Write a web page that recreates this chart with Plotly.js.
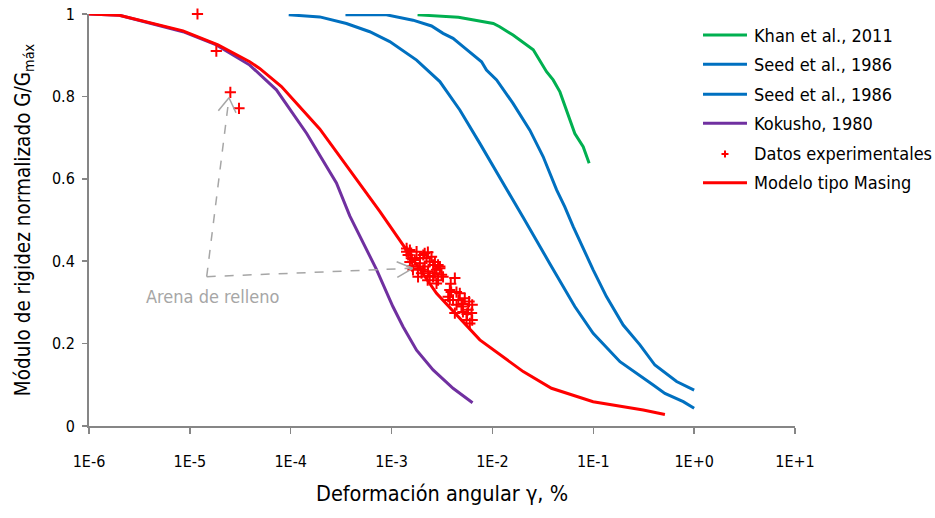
<!DOCTYPE html>
<html>
<head>
<meta charset="utf-8">
<script src="https://cdn.plot.ly/plotly-3.0.1.min.js"></script>
<style>html,body{margin:0;padding:0;background:#fff;}#chart{width:935px;height:518px;}</style>
</head>
<body>
<div id="chart"></div>
<script>
// ---- Data ----
const khanX = [1.81e-3, 4.6e-3, 1.02e-2, 1.18e-2, 1.60e-2, 2.54e-2, 3.44e-2, 4.0e-2, 4.67e-2, 5.43e-2, 6.56e-2, 7.94e-2, 9.1e-2];
const khanY = [0.998, 0.992, 0.977, 0.969, 0.949, 0.913, 0.860, 0.840, 0.811, 0.767, 0.710, 0.678, 0.638];

const seedAX = [9.55e-5, 1.94e-4, 3.57e-4, 6.08e-4, 9.59e-4, 1.77e-3, 3.01e-3, 4.75e-3, 7.50e-3, 1.23e-2, 2.02e-2, 3.71e-2, 6.56e-2, 9.97e-2, 0.184, 0.393, 0.513, 0.78, 1.0];
const seedAY = [0.998, 0.993, 0.977, 0.957, 0.933, 0.888, 0.836, 0.767, 0.686, 0.597, 0.506, 0.394, 0.290, 0.225, 0.156, 0.0995, 0.079, 0.059, 0.043];

const seedBX = [3.49e-4, 8.89e-4, 1.63e-3, 2.49e-3, 3.24e-3, 4.07e-3, 5.12e-3, 7.80e-3, 8.73e-3, 1.10e-2, 1.60e-2, 2.35e-2, 3.18e-2, 4.33e-2, 5.22e-2, 6.32e-2, 9.97e-2, 0.135, 0.198, 0.290, 0.408, 0.670, 1.0];
const seedBY = [0.998, 0.998, 0.985, 0.971, 0.953, 0.941, 0.921, 0.884, 0.864, 0.840, 0.783, 0.718, 0.654, 0.573, 0.532, 0.484, 0.379, 0.314, 0.245, 0.197, 0.148, 0.108, 0.087];

const kokushoX = [1e-6, 2e-6, 8.55e-6, 1.83e-5, 3.92e-5, 7.21e-5, 1.44e-4, 2.84e-4, 3.85e-4, 5.21e-4, 7.08e-4, 1.03e-3, 1.30e-3, 1.77e-3, 2.58e-3, 4.07e-3, 6.35e-3];
const kokushoY = [1.0, 0.997, 0.957, 0.925, 0.876, 0.816, 0.710, 0.590, 0.510, 0.447, 0.380, 0.290, 0.241, 0.184, 0.136, 0.0915, 0.0566];

const masingX = [1e-6, 2.0e-6, 8.55e-6, 1.90e-5, 3.92e-5, 4.92e-5, 8.09e-5, 1.94e-4, 3.85e-4, 7.64e-4, 1.41e-3, 2.79e-3, 7.50e-3, 2.02e-2, 3.85e-2, 9.97e-2, 0.313, 0.513];
const masingY = [1.0, 0.997, 0.959, 0.925, 0.884, 0.868, 0.824, 0.721, 0.621, 0.521, 0.427, 0.322, 0.209, 0.132, 0.0915, 0.059, 0.039, 0.028];

const expX = [1.19e-5, 1.83e-5, 2.52e-5, 3.07e-5,
  1.41e-3, 1.41e-3, 1.46e-3, 1.57e-3, 1.63e-3, 1.77e-3, 1.70e-3, 1.83e-3, 1.91e-3, 2.06e-3,
  2.13e-3, 2.22e-3, 1.98e-3, 2.30e-3, 2.39e-3, 2.49e-3, 2.58e-3, 2.69e-3, 2.58e-3, 2.79e-3,
  2.89e-3, 2.89e-3, 3.01e-3, 3.13e-3, 3.24e-3, 2.13e-3, 3.01e-3, 1.52e-3, 2.28e-3, 1.82e-3,
  1.52e-3, 1.91e-3, 2.29e-3, 2.69e-3, 2.06e-3, 2.39e-3, 1.60e-3, 2.79e-3,
  3.64e-3, 3.78e-3, 4.07e-3, 4.24e-3, 4.41e-3, 4.75e-3, 4.93e-3, 5.32e-3, 5.53e-3, 5.74e-3,
  5.87e-3, 5.97e-3, 6.21e-3, 3.9e-3, 4.6e-3, 5.1e-3, 6.3e-3, 4.24e-3,
  3.86e-3, 4.4e-3, 5.1e-3, 5.6e-3, 3.78e-3, 6.3e-3];
const expY = [1.0, 0.910, 0.810, 0.771,
  0.431, 0.423, 0.415, 0.407, 0.379, 0.423, 0.403, 0.362, 0.395, 0.415,
  0.387, 0.407, 0.371, 0.375, 0.399, 0.411, 0.391, 0.371, 0.362, 0.346,
  0.391, 0.354, 0.383, 0.367, 0.362, 0.419, 0.387, 0.398, 0.354, 0.383,
  0.427, 0.408, 0.422, 0.398, 0.379, 0.364, 0.388, 0.379,
  0.314, 0.330, 0.306, 0.359, 0.294, 0.322, 0.290, 0.310, 0.257, 0.282,
  0.302, 0.249, 0.274, 0.325, 0.306, 0.277, 0.294, 0.274,
  0.345, 0.325, 0.296, 0.272, 0.306, 0.257];

const xTickVals = [1e-6, 1e-5, 1e-4, 1e-3, 1e-2, 1e-1, 1, 10];
const xTickText = ['1E-6', '1E-5', '1E-4', '1E-3', '1E-2', '1E-1', '1E+0', '1E+1'];
const yTickVals = [0, 0.2, 0.4, 0.6, 0.8, 1];
const yTickText = ['0', '0.2', '0.4', '0.6', '0.8', '1'];

const seriesNames = ['Khan et al., 2011', 'Seed et al., 1986', 'Seed et al., 1986', 'Kokusho, 1980', 'Datos experimentales', 'Modelo tipo Masing'];
const seriesColors = ['#00B050', '#0070C0', '#0070C0', '#7030A0', '#FF0000', '#FF0000'];

// ---- Styling ----
const FONT = "Tahoma, 'DejaVu Sans Condensed', 'DejaVu Sans', sans-serif";
const lw = 3;

const traces = [
  {x: khanX, y: khanY, name: seriesNames[0], mode: 'lines', line: {color: seriesColors[0], width: lw}},
  {x: seedAX, y: seedAY, name: seriesNames[1], mode: 'lines', line: {color: seriesColors[1], width: lw}},
  {x: seedBX, y: seedBY, name: seriesNames[2], mode: 'lines', line: {color: seriesColors[2], width: lw}},
  {x: kokushoX, y: kokushoY, name: seriesNames[3], mode: 'lines', line: {color: seriesColors[3], width: lw}},
  {x: masingX, y: masingY, name: seriesNames[5], mode: 'lines', line: {color: seriesColors[5], width: lw}},
  {x: expX, y: expY, name: seriesNames[4], mode: 'markers', marker: {symbol: 'cross-thin', size: 8, color: seriesColors[4], line: {color: seriesColors[4], width: 2}}}
];
traces.forEach(t => { t.type = 'scatter'; t.cliponaxis = false; t.showlegend = false; });

const gray = '#A6A6A6';
function seg(x0, y0, x1, y1, dash, color, width) {
  return {type: 'line', xref: 'paper', yref: 'paper', x0: x0, y0: y0, x1: x1, y1: y1,
          line: {color: color || gray, width: width || 1.5, dash: dash || 'solid'}};
}

// custom legend (drawn outside the plot area without shrinking it)
const legRowY = [0.949, 0.8779, 0.8051, 0.7347, 0.6602, 0.5905];
const legLineX0 = 0.8697, legLineX1 = 0.9320, legTextX = 0.9391;
const shapes = [
  seg(0.1667, 0.3624, 0.1983, 0.7968, 'dash'),
  seg(0.1832, 0.7653, 0.1983, 0.7968),
  seg(0.2082, 0.7604, 0.1983, 0.7968),
  seg(0.1667, 0.3624, 0.4585, 0.3828, 'dash'),
  seg(0.4358, 0.3988, 0.4585, 0.3828),
  seg(0.4367, 0.3609, 0.4585, 0.3828)
];
const annotations = [
  {xref: 'paper', yref: 'paper', x: 0.1756, y: 0.3155, text: 'Arena de relleno', showarrow: false,
   font: {family: FONT, size: 18, color: gray}, xanchor: 'center', yanchor: 'middle'}
];
seriesNames.forEach((nm, i) => {
  const yy = legRowY[i];
  if (i === 4) {
    const cx = (legLineX0 + legLineX1) / 2, dx = 3.5 / 706, dy = 3.5 / 412;
    shapes.push(seg(cx - dx, yy, cx + dx, yy, 'solid', seriesColors[i], 2));
    shapes.push(seg(cx, yy - dy, cx, yy + dy, 'solid', seriesColors[i], 2));
  } else {
    shapes.push(seg(legLineX0, yy, legLineX1, yy, 'solid', seriesColors[i], 3));
  }
  annotations.push({xref: 'paper', yref: 'paper', x: legTextX, y: yy, text: nm, showarrow: false,
    xanchor: 'left', yanchor: 'middle', font: {family: FONT, size: 18, color: '#000'}});
});

const layout = {
  width: 935, height: 518,
  margin: {l: 89, r: 140, t: 14, b: 92},
  paper_bgcolor: '#fff', plot_bgcolor: '#fff',
  font: {family: FONT, size: 16, color: '#000'},
  showlegend: false,
  xaxis: {
    type: 'log', range: [-6, 1], showgrid: false, zeroline: false,
    showline: true, linecolor: '#868686', linewidth: 2,
    ticks: 'outside', ticklen: 6, tickwidth: 1.5, tickcolor: '#868686',
    tickvals: xTickVals, ticktext: xTickText, ticklabelstandoff: 14,
    tickfont: {family: FONT, size: 16, color: '#000'},
    title: {text: 'Deformación angular γ, %', font: {family: FONT, size: 21.5, color: '#000'}, standoff: 16}
  },
  yaxis: {
    range: [0, 1], showgrid: false, zeroline: false,
    showline: true, linecolor: '#868686', linewidth: 2,
    ticks: 'outside', ticklen: 5, tickwidth: 1.5, tickcolor: '#868686',
    tickvals: yTickVals, ticktext: yTickText, ticklabelstandoff: 4,
    tickfont: {family: FONT, size: 16, color: '#000'},
    title: {text: 'Módulo de rigidez normalizado G/G<sub>máx</sub>', font: {family: FONT, size: 20.5, color: '#000'}, standoff: 16}
  },
  shapes: shapes,
  annotations: annotations
};

Plotly.newPlot('chart', traces, layout, {staticPlot: true, displayModeBar: false});
</script>
</body>
</html>
